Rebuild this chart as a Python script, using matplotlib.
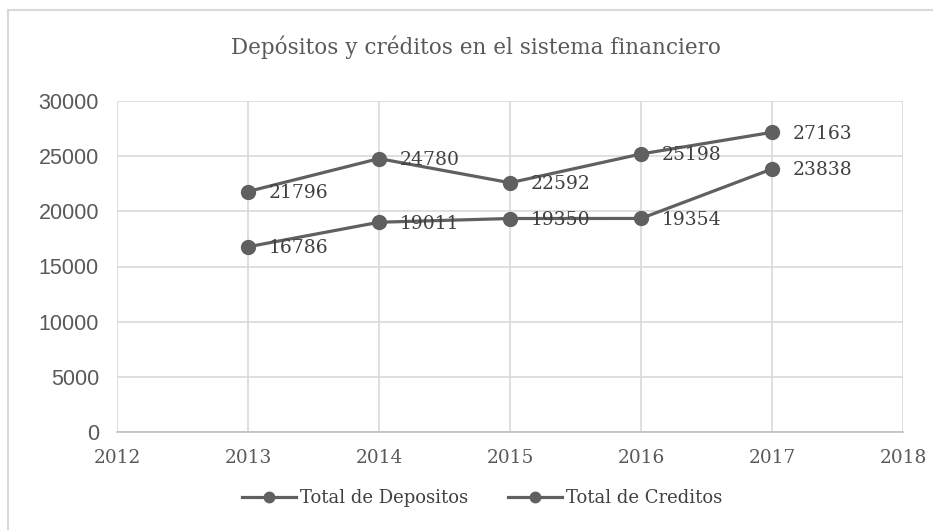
import matplotlib
matplotlib.use("Agg")
import matplotlib.pyplot as plt
from matplotlib.lines import Line2D

# datos
years = [2013, 2014, 2015, 2016, 2017]
depositos = [21796, 24780, 22592, 25198, 27163]
creditos = [16786, 19011, 19350, 19354, 23838]
x_ticks = [2012, 2013, 2014, 2015, 2016, 2017, 2018]
y_ticks = [0, 5000, 10000, 15000, 20000, 25000, 30000]

serif = "DejaVu Serif"
sans = "Liberation Sans"
line_col = "#606060"
text_col = "#595959"
grid_col = "#d9d9d9"

fig = plt.figure(figsize=(9.33, 5.3), dpi=100)
ax = fig.add_axes([117 / 933, 98 / 530, (903 - 117) / 933, (432 - 101) / 530])

for vals, name in [(depositos, "Total de Depositos"), (creditos, "Total de Creditos")]:
    ax.plot(years, vals, color=line_col, lw=2.3, marker="o", ms=10, label=name, zorder=3)
    for x, y in zip(years, vals):
        ax.annotate(str(y), (x, y), xytext=(15, -1), textcoords="offset points",
                    ha="left", va="center", fontsize=13.5, family=serif, color="#404040", zorder=4)

ax.set_xlim(2012, 2018)
ax.set_ylim(0, 30000)
ax.set_xticks(x_ticks)
ax.set_yticks(y_ticks)
ax.set_xticklabels([str(v) for v in x_ticks], family=serif, fontsize=13.3, color=text_col)
ax.set_yticklabels([str(v) for v in y_ticks], family=sans, fontsize=15.5, color=text_col)
ax.tick_params(length=0)
ax.tick_params(axis="x", pad=12)
ax.tick_params(axis="y", pad=13)
ax.grid(True, color=grid_col, lw=1.2)
ax.set_axisbelow(True)
for side in ["top", "right", "left"]:
    ax.spines[side].set_visible(False)
ax.spines["bottom"].set_color("#bfbfbf")
ax.spines["bottom"].set_linewidth(1.2)

fig.text(476 / 933, 1 - 47 / 530, "Depósitos y créditos en el sistema financiero",
         ha="center", va="center", family=serif, fontsize=15.5, color=text_col)

ax.legend(loc="center", bbox_to_anchor=(482 / 933, 1 - 498 / 530), bbox_transform=fig.transFigure,
          ncol=2, frameon=False, prop={"family": serif, "size": 13}, labelcolor="#404040",
          handlelength=3.0, columnspacing=2.2, handletextpad=0.2, markerscale=0.75)

# borde exterior
fig.add_artist(Line2D([8 / 933, 8 / 933], [0, 1 - 10 / 530], transform=fig.transFigure, color=grid_col, lw=1.5))
fig.add_artist(Line2D([8 / 933, 1], [1 - 10 / 530, 1 - 10 / 530], transform=fig.transFigure, color=grid_col, lw=1.5))

fig.savefig("out.png", dpi=100)
